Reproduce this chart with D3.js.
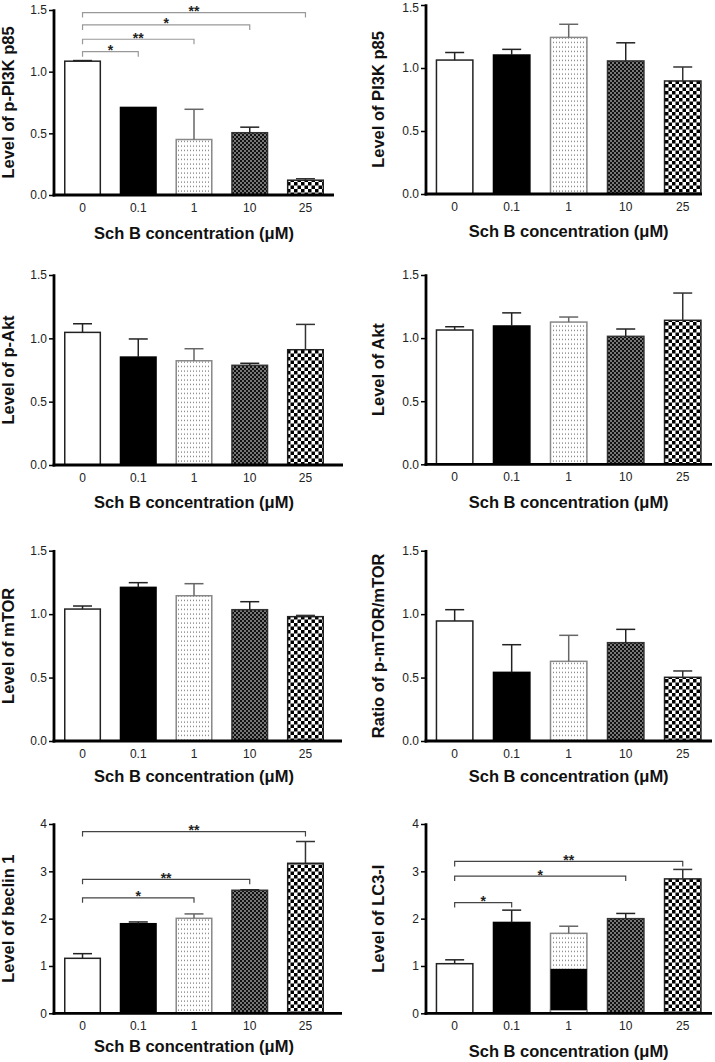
<!DOCTYPE html>
<html><head><meta charset="utf-8">
<script src="https://cdn.jsdelivr.net/npm/d3@7"></script>
<style>
body{margin:0;background:#fff}
svg{display:block}
text{font-family:"Liberation Sans",Arial,Helvetica,sans-serif}
</style>
</head><body>
<svg id="chart" width="715" height="1062"></svg>
<script>
// ---------- DATA ----------
const categories = ["0", "0.1", "1", "10", "25"];
const xTitle = "Sch B concentration (\u03bcM)";
const yTitles = ["Level of p-PI3K p85", "Level of PI3K p85", "Level of p-Akt", "Level of Akt",
                 "Level of mTOR", "Ratio of p-mTOR/mTOR", "Level of beclin 1", "Level of LC3-I"];
const ticksSmall = [0, 0.5, 1.0, 1.5];
const ticksLarge = [0, 1, 2, 3, 4];

const pPI3K_mean = [1.085, 0.71, 0.45, 0.505, 0.12];
const pPI3K_sem  = [0.005, 0.0, 0.245, 0.045, 0.012];
const PI3K_mean  = [1.063, 1.103, 1.243, 1.056, 0.897];
const PI3K_sem   = [0.06, 0.045, 0.104, 0.144, 0.111];
const pAkt_mean  = [1.047, 0.852, 0.823, 0.787, 0.91];
const pAkt_sem   = [0.068, 0.143, 0.095, 0.016, 0.2];
const Akt_mean   = [1.064, 1.096, 1.127, 1.014, 1.141];
const Akt_sem    = [0.026, 0.104, 0.04, 0.058, 0.216];
const mTOR_mean  = [1.04, 1.211, 1.145, 1.035, 0.98];
const mTOR_sem   = [0.024, 0.037, 0.095, 0.063, 0.01];
const ratio_mean = [0.946, 0.541, 0.628, 0.775, 0.502];
const ratio_sem  = [0.089, 0.218, 0.205, 0.105, 0.05];
const beclin_mean = [1.162, 1.893, 2.007, 2.6, 3.17];
const beclin_sem  = [0.098, 0.037, 0.093, 0.01, 0.46];
const LC3_mean   = [1.048, 1.92, 1.69, 2.0, 2.84];
const LC3_sem    = [0.082, 0.26, 0.15, 0.11, 0.2];
// LC3-I "1 uM" bar shows a black band inside (from, to)
const LC3_band = [0.07, 0.94];

const pPI3K_sig = [
  {from: 0, to: 1, y: 1.162, label: "*"},
  {from: 0, to: 2, y: 1.263, label: "**"},
  {from: 0, to: 3, y: 1.379, label: "*"},
  {from: 0, to: 4, y: 1.479, label: "**"}
];
const beclin_sig = [
  {from: 0, to: 2, y: 2.44, label: "*"},
  {from: 0, to: 3, y: 2.83, label: "**"},
  {from: 0, to: 4, y: 3.84, label: "**"}
];
const LC3_sig = [
  {from: 0, to: 1, y: 2.34, label: "*"},
  {from: 0, to: 3, y: 2.90, label: "*"},
  {from: 0, to: 4, y: 3.21, label: "**"}
];

// ---------- LAYOUT ----------
const L = {x0: 54, barL: 64, barR: 324, titleX: 13.5};
const R = {x0: 426, barL: 435.7, barR: 701.7, titleX: 383.5};
const panels = [
  {...L, xEnd: 334, yBase: 195,    yTop: 10,    titleOff: 44,   max: 1.5, ticks: ticksSmall, fmt: ".1f", mean: pPI3K_mean, sem: pPI3K_sem, sig: pPI3K_sig, sigColor: "#999"},
  {...R, xEnd: 702, yBase: 194,    yTop: 5,     titleOff: 43,   max: 1.5, ticks: ticksSmall, fmt: ".1f", mean: PI3K_mean, sem: PI3K_sem},
  {...L, xEnd: 343, yBase: 465,    yTop: 275,   titleOff: 43,   max: 1.5, ticks: ticksSmall, fmt: ".1f", mean: pAkt_mean, sem: pAkt_sem},
  {...R, xEnd: 712, yBase: 464.3,  yTop: 275,   titleOff: 44,   max: 1.5, ticks: ticksSmall, fmt: ".1f", mean: Akt_mean, sem: Akt_sem},
  {...L, xEnd: 342, yBase: 741,    yTop: 550.7, titleOff: 41,   max: 1.5, ticks: ticksSmall, fmt: ".1f", mean: mTOR_mean, sem: mTOR_sem},
  {...R, xEnd: 712, yBase: 741,    yTop: 550.7, titleOff: 41,   max: 1.5, ticks: ticksSmall, fmt: ".1f", mean: ratio_mean, sem: ratio_sem},
  {...L, xEnd: 342, yBase: 1013.3, yTop: 824,   titleOff: 38.5, max: 4,   ticks: ticksLarge, fmt: "d",   mean: beclin_mean, sem: beclin_sem, sig: beclin_sig, sigColor: "#444"},
  {...R, xEnd: 712, yBase: 1013.3, yTop: 824,   titleOff: 43.4, max: 4,   ticks: ticksLarge, fmt: "d",   mean: LC3_mean, sem: LC3_sem, sig: LC3_sig, sigColor: "#444", band: LC3_band}
];

const fills   = ["#ffffff", "#000000", "url(#dots)", "url(#fine)", "url(#checker)"];
const strokes = ["#222", "#000", "#888", "#333", "#222"];
const errCol  = ["#222", "#222", "#666", "#222", "#333"];

const svg = d3.select("#chart");
svg.append("rect").attr("width", 715).attr("height", 1062).attr("fill", "#fff");

// ---------- PATTERNS ----------
const defs = svg.append("defs");
const pd = defs.append("pattern").attr("id", "dots").attr("patternUnits", "userSpaceOnUse")
  .attr("width", 3).attr("height", 4.5);
pd.append("rect").attr("width", 3).attr("height", 4.5).attr("fill", "#fff");
pd.append("rect").attr("x", 1).attr("y", 1.5).attr("width", 1).attr("height", 1).attr("fill", "#555");

const pf = defs.append("pattern").attr("id", "fine").attr("patternUnits", "userSpaceOnUse")
  .attr("width", 4).attr("height", 4);
pf.append("rect").attr("width", 4).attr("height", 4).attr("fill", "#777");
pf.append("rect").attr("width", 2).attr("height", 2).attr("fill", "#111");
pf.append("rect").attr("x", 2).attr("y", 2).attr("width", 2).attr("height", 2).attr("fill", "#111");

const pc = defs.append("pattern").attr("id", "checker").attr("patternUnits", "userSpaceOnUse")
  .attr("width", 7).attr("height", 7);
pc.append("rect").attr("width", 7).attr("height", 7).attr("fill", "#fff");
pc.append("rect").attr("width", 3.5).attr("height", 3.5).attr("fill", "#000");
pc.append("rect").attr("x", 3.5).attr("y", 3.5).attr("width", 3.5).attr("height", 3.5).attr("fill", "#000");

// ---------- DRAW ----------
panels.forEach((p, pi) => {
  const g = svg.append("g");
  const x = d3.scaleBand().domain(categories).range([p.barL, p.barR]).paddingInner(0.335).paddingOuter(0);
  const y = d3.scaleLinear().domain([0, p.max]).range([p.yBase, p.yTop]);
  const rows = categories.map((c, i) => ({c, i, m: p.mean[i], s: p.sem[i]}));

  // bars
  g.selectAll("rect.bar").data(rows).join("rect")
    .attr("x", d => x(d.c) + 0.75)
    .attr("y", d => y(d.m))
    .attr("width", x.bandwidth() - 1.5)
    .attr("height", d => y(0) - y(d.m))
    .attr("fill", d => fills[d.i])
    .attr("stroke", d => strokes[d.i])
    .attr("stroke-width", 1.5);

  if (p.band) {
    const c = categories[2];
    g.append("rect").attr("x", x(c) + 0.75).attr("width", x.bandwidth() - 1.5)
      .attr("y", y(p.band[0])).attr("height", y(0) - y(p.band[0]))
      .attr("fill", "#fff").attr("stroke", "#888").attr("stroke-width", 1.5);
    g.append("rect").attr("x", x(c) + 0.75).attr("width", x.bandwidth() - 1.5)
      .attr("y", y(p.band[1])).attr("height", y(p.band[0]) - y(p.band[1]))
      .attr("fill", "#000");
  }

  // error bars
  const cap = 19;
  rows.filter(d => d.s > 0).forEach(d => {
    const cx = x(d.c) + x.bandwidth() / 2;
    g.append("line").attr("x1", cx).attr("x2", cx).attr("y1", y(d.m)).attr("y2", y(d.m + d.s))
      .attr("stroke", errCol[d.i]).attr("stroke-width", 1.5);
    g.append("line").attr("x1", cx - cap / 2).attr("x2", cx + cap / 2)
      .attr("y1", y(d.m + d.s)).attr("y2", y(d.m + d.s))
      .attr("stroke", errCol[d.i]).attr("stroke-width", 1.5);
  });

  // y axis
  const yAxis = d3.axisLeft(y).tickValues(p.ticks).tickFormat(d3.format(p.fmt)).tickSize(5).tickPadding(2);
  const ya = g.append("g").attr("transform", `translate(${p.x0},0)`).call(yAxis);
  ya.select(".domain").remove();
  ya.selectAll(".tick line").attr("stroke", "#000").attr("stroke-width", 1.5);
  ya.selectAll(".tick text").attr("font-size", 12).attr("fill", "#222")
    .attr("font-family", "'Liberation Sans', Arial, sans-serif")
    .attr("dy", d => (y(d) < 8 ? "0.55em" : "0.32em"));
  g.append("line").attr("x1", p.x0).attr("x2", p.x0).attr("y1", p.yTop - 0.75).attr("y2", p.yBase + 1.5)
    .attr("stroke", "#000").attr("stroke-width", 2.8);

  // x axis
  const xAxis = d3.axisBottom(x).tickSize(0).tickPadding(8.5);
  const xa = g.append("g").attr("transform", `translate(0,${p.yBase})`).call(xAxis);
  xa.select(".domain").remove();
  xa.selectAll(".tick text").attr("font-size", 12).attr("fill", "#222")
    .attr("font-family", "'Liberation Sans', Arial, sans-serif");
  g.append("line").attr("x1", p.x0 - 1.4).attr("x2", p.xEnd).attr("y1", p.yBase).attr("y2", p.yBase)
    .attr("stroke", "#000").attr("stroke-width", 2.8);

  // titles
  g.append("text").attr("x", (p.barL + p.barR) / 2).attr("y", p.yBase + p.titleOff)
    .attr("text-anchor", "middle").attr("font-size", 16.5).attr("font-weight", "bold").attr("fill", "#111")
    .text(xTitle);
  g.append("text")
    .attr("transform", `translate(${p.titleX},${(p.yBase + p.yTop) / 2}) rotate(-90)`)
    .attr("text-anchor", "middle").attr("font-size", 16.5).attr("font-weight", "bold").attr("fill", "#111")
    .text(yTitles[pi]);

  // significance brackets
  if (p.sig) {
    p.sig.forEach(s => {
      const xa1 = x(categories[s.from]) + x.bandwidth() / 2;
      const xb1 = x(categories[s.to]) + x.bandwidth() / 2;
      const yy = y(s.y);
      g.append("path").attr("d", `M${xa1},${yy + 5}V${yy}H${xb1}V${yy + 5}`)
        .attr("fill", "none").attr("stroke", p.sigColor).attr("stroke-width", 1.2);
      g.append("text").attr("x", (xa1 + xb1) / 2).attr("y", yy + 3.5)
        .attr("text-anchor", "middle").attr("font-size", 14).attr("font-weight", "bold")
        .attr("fill", "#222").text(s.label);
    });
  }
});
</script>
</body></html>
